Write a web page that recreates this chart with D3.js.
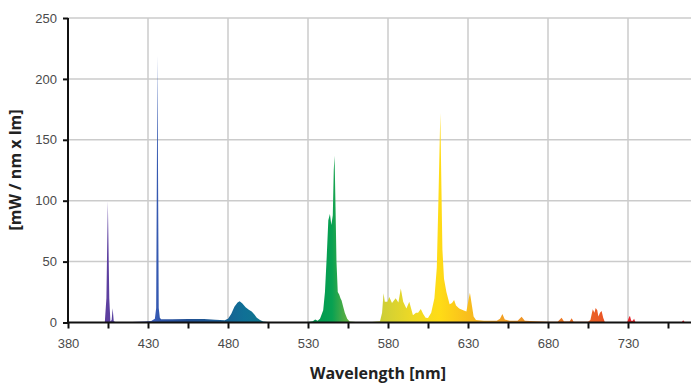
<!DOCTYPE html>
<html>
<head>
<meta charset="utf-8">
<script src="https://cdn.jsdelivr.net/npm/d3@7"></script>
<style>
  html, body { margin: 0; padding: 0; background: #fff; }
  svg { display: block; font-family: "Open Sans", "DejaVu Sans", sans-serif; }
</style>
</head>
<body>
<svg id="chart" width="691" height="383"></svg>
<script>
// ---- data ----
const wavelengths = [
  380, 398, 403, 404, 404.9, 405.8, 406.5, 407.3, 407.9, 408.6, 410, 420, 428, 432,
  434.3, 435.1, 435.9, 436.7, 437.4, 438.2, 445, 455, 465, 472, 478,
  480, 482, 484, 486, 487.3, 489, 491, 493, 494.8, 496.5, 498, 500, 502, 505, 520,
  530, 533, 534.5, 536, 537.5, 539.5, 540.6, 541.7, 542.7, 543.7, 544.6, 545.5, 546.1, 546.6, 547.2, 547.8, 548.6,
  549.5, 550.3, 551, 552, 553, 554.5, 556, 560, 570,
  575, 576.3, 577.2, 578, 579.7, 580.8, 582.5, 584.8, 586.5, 588, 589.5, 591.5, 593.3, 595.6, 597.5, 598.8,
  600.5, 602, 603.5, 605, 607, 609, 610.5, 611.5, 612.7, 613.4, 614, 615, 616.5, 618.5, 620, 621.3, 622.5,
  624.5, 627, 629, 630.5, 631.2, 632.2, 633.5, 635, 640, 648,
  650, 651.5, 653, 656, 661, 663.5, 665.5, 672, 680, 686, 688.5, 690, 693.5, 694.8, 696, 705,
  706.5, 707.5, 708, 709, 709.8, 710.8, 711.5, 712.5, 713.5, 714.5, 715.5, 720,
  729.5, 730.5, 731.2, 732, 733, 733.8, 734.6, 740, 763.5, 764.5, 765.5, 767
];
const power = [
  0, 0, 0.3, 20, 99.5, 20, 0.8, 2, 11.6, 1, 0.3, 0.4, 0.8, 1.2,
  3, 12, 219, 12, 4, 2.6, 2.7, 2.9, 2.8, 2.2, 1.8,
  3, 7, 13, 16.5, 17.5, 15.5, 12.5, 10.5, 9, 6.5, 4, 2, 0.8, 0.4, 0.3,
  0.5, 1, 2.5, 1.5, 3, 10, 25, 54, 84, 89, 80, 88, 125, 137, 95, 50, 25,
  23, 20, 18, 13, 8, 3, 0.8, 0.5, 0.5,
  1, 8, 24, 17, 17, 21, 16, 20, 16.5, 28, 17, 11.5, 17, 6, 8, 8,
  11, 7, 4, 3.7, 8, 20, 45, 100, 172, 110, 60, 36, 25, 15, 16, 18.4, 14,
  11.5, 10, 9, 20, 24.5, 16, 5, 2, 1.5, 1.5,
  3, 7, 2.5, 1.5, 1.5, 4.8, 1.5, 1, 0.6, 0.6, 4, 0.8, 0.8, 3.4, 0.6, 0.6,
  2, 8, 10.8, 8, 12, 10, 5, 8, 9.4, 4, 0.5, 0.3,
  0.3, 4, 5.5, 1.5, 1.5, 3, 0.4, 0.2, 0.2, 1.8, 0.2, 0
];
const xTickValues = [380, 405, 430, 455, 480, 505, 530, 555, 580, 605, 630, 655, 680, 705, 730, 755];
const xLabelValues = [380, 430, 480, 530, 580, 630, 680, 730];
const yTickValues = [0, 50, 100, 150, 200, 250];
const xTitle = "Wavelength [nm]";
const yTitle = "[mW / nm x lm]";

// colour by wavelength (style, not data)
const gradientNm = [380, 404, 420, 434, 438, 455, 475, 490, 510, 535, 545, 552, 560, 577, 595, 612, 628, 645, 670, 695, 712, 731, 767];
const gradientColors = ["#5a3a9c", "#5e3f9f", "#4a4aa6", "#3a5cb8", "#2f55a8", "#214f92", "#1a5c92", "#0f7096", "#137a86", "#00994f", "#08a152", "#4aab46", "#86bb3f", "#cfcf36", "#eed925", "#ffdc16", "#f9c11c", "#f3a623", "#ee8f25", "#ec7024", "#ea5a25", "#e5242c", "#e5242c"];

// ---- layout ----
const svg = d3.select("#chart");
const x = d3.scaleLinear().domain([380, 767.5]).range([68, 688]);
const y = d3.scaleLinear().domain([0, 250]).range([322.5, 18]);

// gradient
const defs = svg.append("defs");
const grad = defs.append("linearGradient")
  .attr("id", "spec").attr("gradientUnits", "userSpaceOnUse")
  .attr("x1", x(380)).attr("x2", x(767.5)).attr("y1", 0).attr("y2", 0);
gradientNm.forEach((nm, i) => {
  grad.append("stop")
    .attr("offset", (nm - 380) / (767.5 - 380))
    .attr("stop-color", gradientColors[i]);
});

// grid
const grid = svg.append("g");
grid.selectAll("line.h").data(yTickValues.filter(d => d > 0)).join("line")
  .attr("x1", x(380)).attr("x2", 691)
  .attr("y1", d => y(d)).attr("y2", d => y(d))
  .attr("stroke", "#cbcbcb").attr("stroke-width", 1.5);
grid.selectAll("line.v").data(xLabelValues.filter(d => d > 380)).join("line")
  .attr("x1", d => x(d)).attr("x2", d => x(d))
  .attr("y1", y(250)).attr("y2", y(0))
  .attr("stroke", "#cbcbcb").attr("stroke-width", 1.5);

// spectrum
const pts = wavelengths.map((w, i) => [w, power[i]]);
const area = d3.area()
  .x(d => x(d[0])).y0(y(0)).y1(d => y(d[1]))
  .curve(d3.curveLinear);
svg.append("path").datum(pts)
  .attr("d", area)
  .attr("fill", "url(#spec)");

// axes
const xAxis = d3.axisBottom(x).tickValues(xTickValues).tickSize(6)
  .tickFormat(d => xLabelValues.includes(d) ? d : "");
const gx = svg.append("g").attr("transform", `translate(0,${y(0)})`).call(xAxis);
gx.select(".domain").attr("d", `M${x(380)},0H691`).attr("stroke", "#111").attr("stroke-width", 2);
gx.selectAll(".tick line").attr("stroke", "#111").attr("stroke-width", 2);
gx.selectAll(".tick text").attr("fill", "#4a4a4a").attr("font-size", 13).attr("dy", "1.25em");

const yAxis = d3.axisLeft(y).tickValues(yTickValues).tickSize(5).tickPadding(6);
const gy = svg.append("g").attr("transform", `translate(${x(380)},0)`).call(yAxis);
gy.select(".domain").attr("d", `M0,${y(250)}V${y(0) + 1}`).attr("stroke", "#111").attr("stroke-width", 2);
gy.selectAll(".tick line").attr("stroke", "#111").attr("stroke-width", 2);
gy.selectAll(".tick text").attr("fill", "#4a4a4a").attr("font-size", 13);

// titles
svg.append("text").attr("x", 378).attr("y", 379)
  .attr("text-anchor", "middle").attr("font-size", 16).attr("font-weight", "bold")
  .attr("fill", "#222").text(xTitle);
svg.append("text").attr("transform", "translate(21,170) rotate(-90)")
  .attr("text-anchor", "middle").attr("font-size", 16).attr("font-weight", "bold")
  .attr("fill", "#222").text(yTitle);
</script>
</body>
</html>
